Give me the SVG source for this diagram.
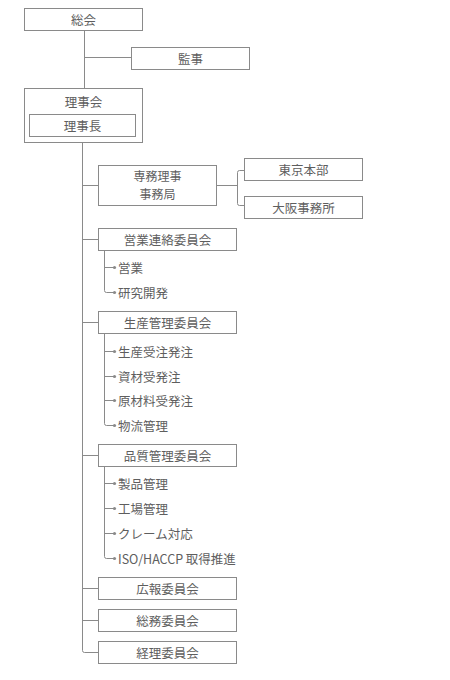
<svg xmlns="http://www.w3.org/2000/svg" width="450" height="680" viewBox="0 0 450 680">
<style>
.box{fill:#fff;stroke:#8a8a8a;stroke-width:1}
.ln{fill:none;stroke:#8a8a8a;stroke-width:1}
.t{font-family:"Noto Sans CJK JP","Noto Sans",sans-serif;font-size:12.5px;fill:#5e5e5e;dominant-baseline:central}
.c{text-anchor:middle}
.s{font-size:12px}
.dot{fill:#8a8a8a}
</style>
<rect width="450" height="680" fill="#fff"/>
<g id="connectors">
<path class="ln" d="M84.5 30V88.5M84.5 57.5H131.5"/>
<path class="ln" d="M82.5 142.5V650.5Q82.5 652.5 84.5 652.5H98.5"/>
<path class="ln" d="M82.5 185.5H98.5M82.5 239.5H98.5M82.5 322.5H98.5M82.5 455.5H98.5M82.5 588.5H98.5M82.5 620.5H98.5"/>
<path class="ln" d="M216.5 185.5H237.5M244.5 170.5H239.5Q237.5 170.5 237.5 172.5V203.5Q237.5 205.5 239.5 205.5H244.5"/>
<path class="ln" d="M104.5 250.5V290.5Q104.5 292.5 106.5 292.5H114M104.5 267.5H114"/>
<path class="ln" d="M104.5 333.5V423.5Q104.5 425.5 106.5 425.5H114M104.5 351.5H114M104.5 376.5H114M104.5 400.5H114"/>
<path class="ln" d="M104.5 466.5V556.5Q104.5 558.5 106.5 558.5H114M104.5 483.5H114M104.5 508.5H114M104.5 533.5H114"/>
<g class="dot">
<circle cx="114.5" cy="267.5" r="1.6"/><circle cx="114.5" cy="292.5" r="1.6"/>
<circle cx="114.5" cy="351.5" r="1.6"/><circle cx="114.5" cy="376.5" r="1.6"/><circle cx="114.5" cy="400.5" r="1.6"/><circle cx="114.5" cy="425.5" r="1.6"/>
<circle cx="114.5" cy="483.5" r="1.6"/><circle cx="114.5" cy="508.5" r="1.6"/><circle cx="114.5" cy="533.5" r="1.6"/><circle cx="114.5" cy="558.5" r="1.6"/>
</g>
</g>
<g id="soukai"><rect class="box" x="24.5" y="8.5" width="118" height="22"/><text class="t c" x="83.5" y="19.5">総会</text></g>
<g id="kanji"><rect class="box" x="131.5" y="47.5" width="118" height="22"/><text class="t c" x="190.5" y="58.5">監事</text></g>
<g id="rijikai"><rect class="box" x="24.5" y="88.5" width="118" height="54"/><text class="t c" x="83.5" y="101.5">理事会</text>
<g id="rijichou"><rect class="box" x="29.5" y="114.5" width="106" height="22"/><text class="t c" x="82.5" y="125.5">理事長</text></g></g>
<g id="senmu"><rect class="box" x="98.5" y="165.5" width="118" height="40"/><text class="t c s" x="157.5" y="175">専務理事</text><text class="t c s" x="157.5" y="193">事務局</text></g>
<g id="tokyo"><rect class="box" x="244.5" y="158.5" width="118" height="22"/><text class="t c" x="303.5" y="169.5">東京本部</text></g>
<g id="osaka"><rect class="box" x="244.5" y="196.5" width="118" height="22"/><text class="t c" x="303.5" y="207.5">大阪事務所</text></g>
<g id="eigyo"><rect class="box" x="98.5" y="228.5" width="138" height="22"/><text class="t c" x="167.5" y="239.5">営業連絡委員会</text>
<text class="t" x="118" y="267.5">営業</text><text class="t" x="118" y="292.5">研究開発</text></g>
<g id="seisan"><rect class="box" x="98.5" y="311.5" width="138" height="22"/><text class="t c" x="167.5" y="322.5">生産管理委員会</text>
<text class="t" x="118" y="351.5">生産受注発注</text><text class="t" x="118" y="376.5">資材受発注</text><text class="t" x="118" y="400.5">原材料受発注</text><text class="t" x="118" y="425.5">物流管理</text></g>
<g id="hinshitsu"><rect class="box" x="98.5" y="444.5" width="138" height="22"/><text class="t c" x="167.5" y="455.5">品質管理委員会</text>
<text class="t" x="118" y="483.5">製品管理</text><text class="t" x="118" y="508.5">工場管理</text><text class="t" x="118" y="533.5">クレーム対応</text><text class="t" x="118" y="558.5">ISO/HACCP 取得推進</text></g>
<g id="kouhou"><rect class="box" x="98.5" y="577.5" width="138" height="22"/><text class="t c" x="167.5" y="588.5">広報委員会</text></g>
<g id="soumu"><rect class="box" x="98.5" y="609.5" width="138" height="22"/><text class="t c" x="167.5" y="620.5">総務委員会</text></g>
<g id="keiri"><rect class="box" x="98.5" y="641.5" width="138" height="22"/><text class="t c" x="167.5" y="652.5">経理委員会</text></g>
</svg>
